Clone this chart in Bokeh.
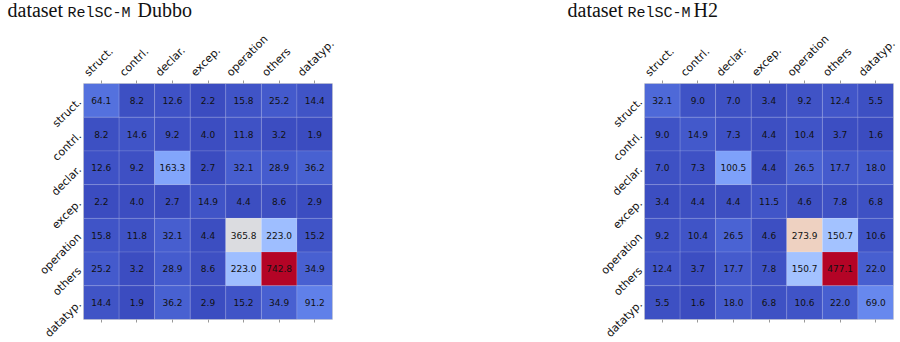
import numpy as np
from math import pi
from bokeh.plotting import figure
from bokeh.layouts import row, column
from bokeh.models import (ColumnDataSource, LinearAxis, FixedTicker, Range1d)
from bokeh.core.properties import value
from bokeh.embed import file_html
from bokeh.resources import INLINE

categories = ["struct.", "contrl.", "declar.", "excep.", "operation", "others", "datatyp."]

dubbo_values = [
    [64.1, 8.2, 12.6, 2.2, 15.8, 25.2, 14.4],
    [8.2, 14.6, 9.2, 4.0, 11.8, 3.2, 1.9],
    [12.6, 9.2, 163.3, 2.7, 32.1, 28.9, 36.2],
    [2.2, 4.0, 2.7, 14.9, 4.4, 8.6, 2.9],
    [15.8, 11.8, 32.1, 4.4, 365.8, 223.0, 15.2],
    [25.2, 3.2, 28.9, 8.6, 223.0, 742.8, 34.9],
    [14.4, 1.9, 36.2, 2.9, 15.2, 34.9, 91.2],
]

h2_values = [
    [32.1, 9.0, 7.0, 3.4, 9.2, 12.4, 5.5],
    [9.0, 14.9, 7.3, 4.4, 10.4, 3.7, 1.6],
    [7.0, 7.3, 100.5, 4.4, 26.5, 17.7, 18.0],
    [3.4, 4.4, 4.4, 11.5, 4.6, 7.8, 6.8],
    [9.2, 10.4, 26.5, 4.6, 273.9, 150.7, 10.6],
    [12.4, 3.7, 17.7, 7.8, 150.7, 477.1, 22.0],
    [5.5, 1.6, 18.0, 6.8, 10.6, 22.0, 69.0],
]

heading_words = ["dataset", "RelSC-M"]
dataset_names = ["Dubbo", "H2"]

# diverging blue-white-red colour table (coolwarm), 33 control points
COOLWARM = np.array([
    (59, 76, 192), (68, 90, 204), (77, 104, 215), (87, 117, 225), (98, 130, 234),
    (108, 142, 241), (119, 154, 247), (130, 165, 251), (141, 176, 254), (152, 185, 255),
    (163, 194, 255), (174, 201, 253), (184, 208, 249), (194, 213, 244), (204, 217, 238),
    (213, 219, 230), (221, 221, 221), (229, 216, 209), (236, 211, 197), (241, 204, 185),
    (245, 196, 173), (247, 187, 160), (247, 177, 148), (247, 166, 135), (244, 154, 123),
    (241, 141, 111), (236, 127, 99), (229, 112, 88), (222, 96, 77), (213, 80, 66),
    (203, 62, 56), (192, 40, 47), (180, 4, 38),
], dtype=float)

N = len(categories)
CELL_PX = 249 / N
LABEL_SHIFT = 15 / CELL_PX   # top labels start a little left of their tick
centres = [k + 0.5 for k in range(N)]
name_of = {c: name for c, name in zip(centres, categories)}
blank = {c: "" for c in centres}


def coolwarm(t):
    pos = np.linspace(0, 1, len(COOLWARM))
    rgb = [np.interp(t, pos, COOLWARM[:, k]) for k in range(3)]
    return "#%02x%02x%02x" % tuple(int(round(c)) for c in rgb)


def heatmap(values, width, height, left, right, top):
    arr = np.array(values)
    vmin, vmax = arr.min(), arr.max()
    xs, ys, cols, txt = [], [], [], []
    for i in range(N):
        for j in range(N):
            v = values[i][j]
            xs.append(centres[j])
            ys.append(centres[i])
            cols.append(coolwarm((v - vmin) / (vmax - vmin)))
            txt.append(f"{v:.1f}")
    src = ColumnDataSource(dict(x=xs, y=ys, color=cols, label=txt))

    p = figure(width=width, height=height, x_range=Range1d(0, N),
               y_range=Range1d(N, 0), x_axis_location=None, y_axis_location=None,
               output_backend="svg", toolbar_location=None, min_border_left=left,
               min_border_right=right, min_border_top=top,
               min_border_bottom=height - top - 249)
    p.rect("x", "y", 1, 1, source=src, fill_color="color",
           line_color="white", line_alpha=0.12, line_width=1)
    p.text("x", "y", text="label", source=src, text_align="center",
           text_baseline="middle", text_font_size="9px", text_color="#111111",
           text_font=value("DejaVu Sans"))

    p.grid.visible = False
    p.outline_line_color = "#d4d4d4"
    p.background_fill_color = "white"

    # column names above the matrix, tick marks at the cell centres
    p.extra_x_ranges = {"names": Range1d(LABEL_SHIFT, N + LABEL_SHIFT)}
    top_axis = LinearAxis(
        x_range_name="names",
        ticker=FixedTicker(ticks=centres, minor_ticks=[c + LABEL_SHIFT for c in centres]),
        major_label_overrides=name_of,
        major_label_orientation=pi / 4,
        major_label_text_font="DejaVu Sans", major_label_text_font_size="11px",
        major_label_text_color="#111111", major_label_standoff=6,
        axis_line_color=None, major_tick_in=0, major_tick_out=0,
        major_tick_line_color=None, minor_tick_in=0, minor_tick_out=3,
        minor_tick_line_color="#999999")
    p.add_layout(top_axis, "above")

    # row names on the left
    left_axis = LinearAxis(
        ticker=FixedTicker(ticks=centres, minor_ticks=[]),
        major_label_overrides=name_of,
        major_label_orientation=pi / 4,
        major_label_text_font="DejaVu Sans", major_label_text_font_size="11px",
        major_label_text_color="#111111", major_label_standoff=4,
        axis_line_color=None, major_tick_in=0, major_tick_out=0,
        major_tick_line_color=None, minor_tick_line_color=None)
    p.add_layout(left_axis, "left")

    # plain tick marks under the matrix
    bottom = LinearAxis(
        ticker=FixedTicker(ticks=centres, minor_ticks=[]),
        major_label_overrides=blank, major_label_text_color=None,
        axis_line_color=None, major_tick_in=0, major_tick_out=3,
        major_tick_line_color="#999999", minor_tick_line_color=None)
    p.add_layout(bottom, "below")
    return p


# heading strip: serif words with the dataset name set in a monospace face
STRIP_H = 24
strip = figure(width=900, height=STRIP_H, x_range=Range1d(0, 900),
               y_range=Range1d(0, STRIP_H), x_axis_location=None,
               y_axis_location=None, output_backend="svg", toolbar_location=None,
               min_border=0)
strip.outline_line_color = None
strip.grid.visible = False
serif_src = ColumnDataSource(dict(
    x=[7, 137, 567, 693],
    y=[14.5, 14.5, 14.5, 14.5],
    t=[heading_words[0], dataset_names[0], heading_words[0], dataset_names[1]]))
mono_src = ColumnDataSource(dict(x=[67, 627], y=[11.5, 11.5],
                                 t=[heading_words[1], heading_words[1]]))
strip.text("x", "y", text="t", source=serif_src, text_font=value("Liberation Serif"),
           text_font_size="20px", text_color="#111111", text_baseline="alphabetic")
strip.text("x", "y", text="t", source=mono_src, text_font=value("Liberation Mono"),
           text_font_size="15px", text_color="#111111", text_baseline="alphabetic")

H = 342 - STRIP_H
left_fig = heatmap(dubbo_values, 450, H, 83, 118, 70 - STRIP_H)
right_fig = heatmap(h2_values, 450, H, 194, 7, 70 - STRIP_H)

layout = column(strip, row(left_fig, right_fig))
open("out.html", "w").write(file_html(layout, INLINE))
